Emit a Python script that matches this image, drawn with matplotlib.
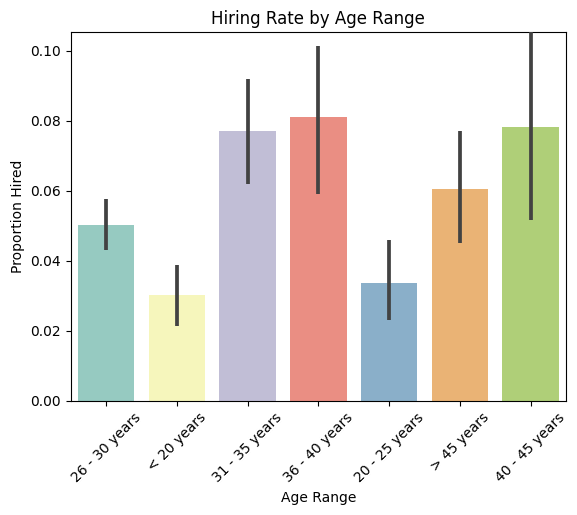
import matplotlib
matplotlib.use("Agg")
import matplotlib.pyplot as plt
import seaborn as sns
import pandas as pd

# values
age_ranges = ["26 - 30 years", "< 20 years", "31 - 35 years", "36 - 40 years",
              "20 - 25 years", "> 45 years", "40 - 45 years"]
hire_rate = [0.0503, 0.0303, 0.0771, 0.0811, 0.0337, 0.0606, 0.0783]
ci_low = [0.0430, 0.0215, 0.0621, 0.0592, 0.0232, 0.0450, 0.0518]
ci_high = [0.0577, 0.0389, 0.0920, 0.1014, 0.0460, 0.0771, 0.1100]

df = pd.DataFrame({"Age Range": age_ranges, "Proportion Hired": hire_rate})

fig = plt.figure(figsize=(5.77, 5.15), dpi=100)
ax = fig.add_axes([0.1225, 0.2214, 0.8585, 0.7156])

sns.barplot(data=df, x="Age Range", y="Proportion Hired", hue="Age Range",
            palette="Set3", legend=False, errorbar=None, ax=ax)
ax.vlines(range(len(age_ranges)), ci_low, ci_high, color=".26", linewidth=2.7, zorder=3)

ax.set_ylim(0, 0.1053)
ax.set_xlim(-0.5, len(age_ranges) - 0.5)
ax.set_title("Hiring Rate by Age Range")
ax.set_xlabel("Age Range")
ax.set_ylabel("Proportion Hired")
plt.setp(ax.get_xticklabels(), rotation=45)

fig.savefig("out.png")
